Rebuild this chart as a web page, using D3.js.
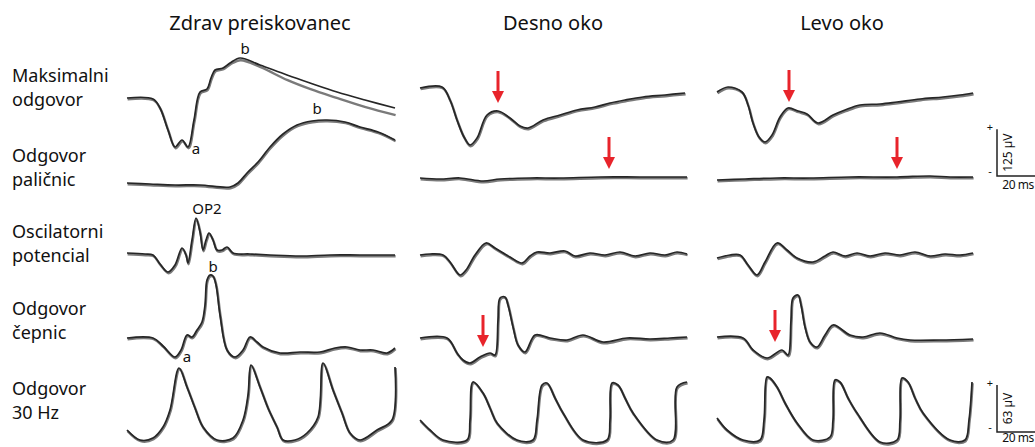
<!DOCTYPE html>
<html>
<head>
<meta charset="utf-8">
<script src="https://cdn.jsdelivr.net/npm/d3@7"></script>
<style>
  body { margin: 0; background: #fff; }
  svg text { font-family: "Noto Sans", "Open Sans", sans-serif; fill: #111; }
</style>
</head>
<body>
<div id="chart"></div>
<script>
// column / row labels
var columnTitles = ["Zdrav preiskovanec", "Desno oko", "Levo oko"];
var rowLabels = [["Maksimalni", "odgovor"], ["Odgovor", "paličnic"], ["Oscilatorni", "potencial"], ["Odgovor", "čepnic"], ["Odgovor", "30 Hz"]];

// traces: [time ms, amplitude µV]
var maxHealthy = [[0,-9],[13,-12],[16.5,-39],[20.5,-105],[24,-156],[27.5,-135],[30.5,-156],[33.5,-75],[36.5,9],[40,18],[42,51],[44,75],[48,81],[51.5,96],[56.5,111],[66.5,90],[80,60],[91.5,36],[105,9],[119,-15],[134,-39]];
var maxHealthyB = [[0,-9],[13,-12],[16.5,-39],[20.5,-105],[24,-156],[27.5,-135],[30.5,-156],[33.5,-75],[36.5,9],[40,18],[42,51],[44,75],[48,81],[51.5,96],[56.5,108],[66.5,87],[80,48],[91.5,21],[105,-6],[119,-33],[134,-57]];
var maxRight = [[0,21],[11,24],[15,-15],[18.5,-75],[22,-126],[25,-150],[28.5,-129],[33.5,-60],[39,-48],[45,-69],[50,-93],[54,-99],[61.5,-75],[70,-60],[78.5,-45],[87.5,-36],[95,-24],[102.5,-15],[111.5,-6],[122.5,0],[132.5,6]];
var maxLeft = [[0,9],[5.5,24],[12.5,9],[15.5,-30],[18,-84],[21,-126],[24,-141],[27.5,-120],[31.5,-66],[35.5,-39],[40.5,-48],[45,-57],[50.5,-84],[58,-60],[64,-45],[71.5,-30],[81.5,-27],[90,-21],[101.5,-12],[113,-6],[121.5,0],[128,6]];

var rodHealthy = [[0,-9],[11.5,-12],[24,-15],[36.5,-15],[51.5,-21],[55.5,-9],[60,21],[65.5,54],[71.5,99],[78,138],[85,165],[92.5,177],[100,180],[109,174],[116.5,159],[125.5,144],[134,120]];
var rodRight = [[0,6],[10,3],[20,6],[31.5,-3],[40,3],[55,6],[70,6],[90,9],[110,9],[133.5,9]];
var rodLeft = [[0,0],[14,3],[30,6],[46.5,6],[66.5,9],[90,9],[106.5,12],[116.5,9],[128,9]];

var opHealthy = [[0,6],[9,3],[13,0],[16.5,-27],[20.5,-51],[24,-30],[27.5,21],[29.5,0],[30.5,-24],[32.5,45],[34.5,111],[36.5,69],[38,15],[39.5,45],[41,66],[43,45],[45,15],[47.5,15],[50,24],[53,6],[61.5,3],[71.5,0],[86.5,-3],[101.5,0],[116.5,0],[134,0]];
var opRight = [[0,0],[5,3],[11.5,0],[15,-21],[20,-60],[23,-45],[27.5,0],[33,36],[37.5,21],[45,-6],[51,-24],[55,-3],[58.5,9],[65,6],[72.5,12],[77.5,-3],[85,6],[92.5,0],[100,9],[107.5,-3],[115,6],[122.5,0],[128.5,9],[133.5,3]];
var opLeft = [[0,-9],[6.5,0],[11.5,0],[15.5,-30],[20,-60],[24,-21],[30,36],[35,15],[40,-9],[48,-21],[54,-3],[58,9],[64,-3],[70,6],[76.5,-3],[84,6],[91.5,0],[99,9],[106.5,-3],[114,3],[121.5,0],[128,6]];

var coneHealthy = [[0,0],[13,0],[18,-24],[24,-57],[27,-36],[30,9],[32.5,3],[35,24],[37.5,48],[39,99],[40,174],[41.5,189],[43,186],[44.5,159],[46.5,69],[50,-36],[54,-57],[58,-36],[61.5,3],[65,-12],[68,-27],[76.5,-45],[86.5,-42],[96.5,-42],[104,-30],[110,-27],[116.5,-36],[123,-36],[130,-45],[134,-30]];
var coneRight = [[0,0],[13.5,0],[18.5,-45],[21.5,-66],[25,-75],[30,-57],[35,-45],[37.5,-51],[39,54],[40,120],[42.5,123],[44,99],[46.5,33],[49,-21],[52.5,-42],[57.5,9],[65,0],[73.5,-6],[81.5,9],[91.5,-12],[103.5,0],[115,-3],[125,0],[133.5,3]];
var coneLeft = [[0,3],[13,0],[18,-36],[25,-60],[32.5,-36],[35.5,-51],[37,54],[38,120],[40.5,129],[42,99],[44,33],[46.5,-12],[50,-27],[54,9],[58,39],[66.5,9],[73,3],[81.5,15],[90,0],[96.5,-6],[111.5,-6],[128,-3]];

var flickerHealthy = [[0,15],[6.5,0],[13,3],[18,19.5],[21.5,45],[26,108],[30,79.5],[34,48],[38,19.5],[45,0],[53,3],[58,30],[60.5,67.5],[62,112.5],[66.5,79.5],[70.5,48],[75,19.5],[78,0],[84,0],[90,10.5],[95.5,34.5],[98,115.5],[103,75],[107.5,40.5],[111.5,10.5],[116.5,0],[125,15],[132.5,30],[134,109.5]];
var flickerRight = [[0,30],[5,15],[11.5,0],[23.5,0],[25,30],[26.5,87],[31.5,70.5],[35,48],[38.5,25.5],[48.5,0],[56.5,0],[58.5,30],[61,82.5],[63.5,85.5],[67.5,63],[71.5,40.5],[81.5,0],[93.5,0],[95,30],[96,85.5],[99,82.5],[102.5,63],[106.5,40.5],[118.5,0],[126.5,0],[128.5,79.5],[133.5,87]];
var flickerLeft = [[0,33],[5,15],[13,0],[21.5,0],[23.5,30],[25,94.5],[26.5,93],[30,79.5],[34,55.5],[40,25.5],[48,0],[56.5,4.5],[58,30],[59,90],[61.5,87],[65.5,63],[70,40.5],[81.5,-3],[90,0],[91.5,30],[92.5,93],[95.5,87],[99,63],[103,40.5],[116.5,0],[124,0],[126,30],[127.5,87]];

// [column, row, time, µV, text]
var peakLabels = [[0,0,34.5,-165,"a"],[0,0,59,135,"b"],[0,1,95,210,"b"],[0,2,40,135,"OP2"],[0,3,30,-60,"a"],[0,3,43,210,"b"]];
// [column, row, time, µV] of arrow tips
var arrows = [[1,0,39,-24],[1,1,94.5,33],[2,0,36,-21],[2,1,90,33],[1,3,31.5,-27],[2,3,29,-12]];

var width = 1035, height = 447;
var svg = d3.select("#chart").append("svg")
    .attr("width", width)
    .attr("height", height);

var colX = [127, 420, 717];
var colTitleX = [260, 553, 842];
var rowBase = [95, 180, 255, 338, 440];
var rowLabelY = [77, 157, 233, 310, 390];

var x = colX.map(function (x0) {
    return d3.scaleLinear().domain([0, 20]).range([x0, x0 + 40]);
});
var y = rowBase.map(function (b, i) {
    return i < 4
        ? d3.scaleLinear().domain([0, 125]).range([b, b - 125 / 3])
        : d3.scaleLinear().domain([0, 63]).range([b, b - 42]);
});

var traces = [
    [0,0,maxHealthy,maxHealthyB],[1,0,maxRight],[2,0,maxLeft],
    [0,1,rodHealthy],[1,1,rodRight],[2,1,rodLeft],
    [0,2,opHealthy],[1,2,opRight],[2,2,opLeft],
    [0,3,coneHealthy],[1,3,coneRight],[2,3,coneLeft],
    [0,4,flickerHealthy],[1,4,flickerRight],[2,4,flickerLeft]
];

function lineFor(c, r) {
    return d3.line()
        .x(function (d) { return x[c](d[0]); })
        .y(function (d) { return y[r](d[1]); })
        .curve(d3.curveCatmullRom.alpha(0.5));
}

traces.forEach(function (tr) {
    var line = lineFor(tr[0], tr[1]);
    var second = tr[3] || tr[2];
    svg.append("path")
        .attr("d", line(second))
        .attr("transform", "translate(0.6,1.2)")
        .attr("fill", "none")
        .attr("stroke", "#7a7a7a")
        .attr("stroke-width", 2.4);
    svg.append("path")
        .attr("d", line(tr[2]))
        .attr("fill", "none")
        .attr("stroke", "#262626")
        .attr("stroke-width", 1.7)
        .attr("stroke-linejoin", "round");
});

// titles
svg.selectAll(".col-title")
    .data(columnTitles)
    .enter().append("text")
    .attr("class", "col-title")
    .attr("x", function (d, i) { return colTitleX[i]; })
    .attr("y", 25)
    .attr("text-anchor", "middle")
    .attr("dominant-baseline", "middle")
    .style("font-size", "20px")
    .text(function (d) { return d; });

rowLabels.forEach(function (lines, i) {
    lines.forEach(function (t, j) {
        svg.append("text")
            .attr("x", 12)
            .attr("y", rowLabelY[i] + j * 24)
            .attr("dominant-baseline", "middle")
            .style("font-size", "18px")
            .text(t);
    });
});

// peak labels
peakLabels.forEach(function (p) {
    svg.append("text")
        .attr("x", x[p[0]](p[2]))
        .attr("y", y[p[1]](p[3]))
        .attr("text-anchor", "middle")
        .attr("dominant-baseline", "middle")
        .style("font-size", "15px")
        .text(p[4]);
});

// red arrows
var red = "#e8242b";
arrows.forEach(function (a) {
    var ax = x[a[0]](a[2]), ay = y[a[1]](a[3]);
    svg.append("line")
        .attr("x1", ax).attr("x2", ax)
        .attr("y1", ay - 32).attr("y2", ay - 10)
        .attr("stroke", red)
        .attr("stroke-width", 3);
    svg.append("path")
        .attr("d", "M" + (ax - 6) + "," + (ay - 12) + "L" + (ax + 6) + "," + (ay - 12) + "L" + ax + "," + ay + "Z")
        .attr("fill", red);
});

// scale bars
function scaleBar(r, label, bottom, textDy) {
    var x0 = 997;
    var len = x[0](20) - x[0](0);
    var hgt = y[r](0) - y[r](r < 4 ? 125 : 63) + 5;
    var g = svg.append("g");
    g.append("path")
        .attr("d", "M" + x0 + "," + (bottom - hgt) + "V" + bottom + "H" + (x0 + len))
        .attr("fill", "none")
        .attr("stroke", "#222")
        .attr("stroke-width", 1.5);
    g.append("text").attr("x", 990).attr("y", bottom - hgt - 1)
        .attr("text-anchor", "middle").attr("dominant-baseline", "middle")
        .style("font-size", "11px").text("+");
    g.append("text").attr("x", 990).attr("y", bottom - 4)
        .attr("text-anchor", "middle").attr("dominant-baseline", "middle")
        .style("font-size", "11px").text("-");
    g.append("text")
        .attr("transform", "translate(1009," + (bottom - hgt / 2) + ") rotate(-90)")
        .attr("text-anchor", "middle").attr("dominant-baseline", "middle")
        .style("font-size", "12px").text(label);
    g.append("text").attr("x", x0 + len / 2 + 1).attr("y", bottom + textDy)
        .attr("text-anchor", "middle").attr("dominant-baseline", "middle")
        .style("font-size", "12px").style("letter-spacing", "-0.5px").text("20 ms");
}
scaleBar(1, "125 µV", 176, 10);
scaleBar(4, "63 µV", 432, 7);
</script>
</body>
</html>
